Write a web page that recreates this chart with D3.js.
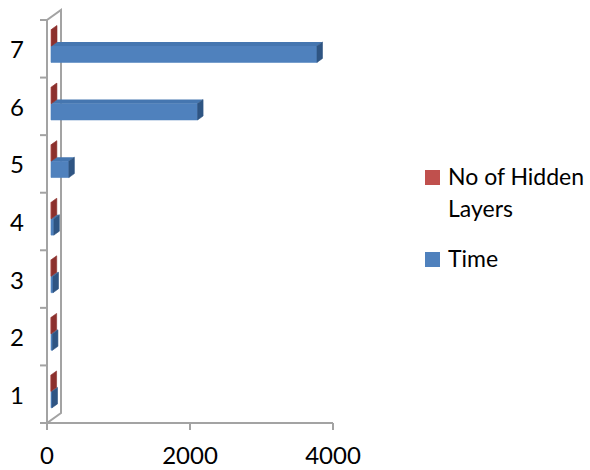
<!DOCTYPE html>
<html>
<head>
<meta charset="utf-8">
<script src="https://cdn.jsdelivr.net/npm/d3@7"></script>
<style>
  html, body { margin: 0; padding: 0; background: #fff; }
  svg { display: block; }
  text { font-family: Lato, "Open Sans", sans-serif; fill: #000; }
</style>
</head>
<body>
<svg id="chart" width="590" height="470"></svg>
<script>
// Hidden-layer experiments: categories 1..7
const categories = ["1", "2", "3", "4", "5", "6", "7"];
const hiddenLayers = [1, 2, 3, 4, 5, 6, 7];
const timeValues = [14, 20, 28, 40, 250, 2050, 3720];
const xTicks = [0, 2000, 4000];
const seriesNames = ["No of Hidden Layers", "Time"];
const seriesKeys = ["hidden", "time"];

const svg = d3.select("#chart");

// Front plane of the plot box
const plot = { left: 47, right: 333, top: 20, bottom: 423 };
const WALL_DEPTH = 14;          // depth of the box (px along x)
const K = -10 / 14;             // vertical shift per px of depth
const BAR_FRONT = 4, BAR_BACK = 9.5;

const proj = (x, y, d) => [x + d, y + K * d];

const x = d3.scaleLinear().domain([0, 4000]).range([plot.left, plot.right]);
const y = d3.scaleBand().domain(categories.slice().reverse())
  .range([plot.top, plot.bottom]).padding(0);
const ySeries = d3.scaleBand().domain(seriesKeys)
  .range([0, y.bandwidth()]).paddingInner(0).paddingOuter(0.75);

const gray = "#a3a3a3";

// Side wall (left) of the 3D box
const wall = svg.append("g").attr("stroke", gray).attr("stroke-width", 2).attr("fill", "none");
const wallPts = [
  proj(plot.left, plot.bottom, 0),
  proj(plot.left, plot.top, 0),
  proj(plot.left, plot.top, WALL_DEPTH),
  proj(plot.left, plot.bottom, WALL_DEPTH),
];
wall.append("path").attr("d", d3.line()(wallPts) + "Z");

// Category axis ticks on the front edge
const edges = categories.map(c => y(c)).concat([plot.bottom]);
wall.selectAll("line.ctick").data(edges).join("line")
  .attr("x1", plot.left - 7).attr("x2", plot.left)
  .attr("y1", d => d).attr("y2", d => d);

// Value axis baseline and ticks
wall.append("line")
  .attr("x1", plot.left - 7).attr("x2", x(4000))
  .attr("y1", plot.bottom).attr("y2", plot.bottom);
wall.selectAll("line.xtick").data(xTicks).join("line")
  .attr("x1", d => x(d)).attr("x2", d => x(d))
  .attr("y1", plot.bottom).attr("y2", plot.bottom + 7);

// Tick labels
svg.append("g").selectAll("text").data(categories).join("text")
  .attr("x", 24).attr("y", d => y(d) + y.bandwidth() / 2)
  .attr("text-anchor", "end").attr("dominant-baseline", "central")
  .attr("font-size", 24).text(d => d);

svg.append("g").selectAll("text").data(xTicks).join("text")
  .attr("x", d => x(d)).attr("y", 464)
  .attr("text-anchor", "middle").attr("font-size", 24).text(d => d);

// Bar colours: front, top, side
const palette = {
  hidden: { front: "#c0504d", top: "#b0443f", side: "#8c302d" },
  time:   { front: "#4f81bd", top: "#4576b0", side: "#2f5583" },
};

const rows = [];
categories.forEach((c, i) => {
  rows.push({ cat: c, key: "time", value: timeValues[i] });
  rows.push({ cat: c, key: "hidden", value: hiddenLayers[i] });
});
// Paint lower bars first so upper bars overlap their top faces
rows.sort((a, b) => {
  const ya = y(a.cat) + ySeries(a.key), yb = y(b.cat) + ySeries(b.key);
  return yb - ya;
});

const poly = pts => "M" + pts.map(p => p.join(",")).join("L") + "Z";
const bars = svg.append("g");
rows.forEach(r => {
  const c = palette[r.key];
  const y0 = y(r.cat) + ySeries(r.key);
  const y1 = y0 + ySeries.bandwidth();
  const x0 = x(0), x1 = x(r.value);
  const g = bars.append("g");
  // front face
  g.append("path").attr("fill", c.front).attr("stroke", c.front).attr("stroke-width", 0.6)
    .attr("d", poly([
      proj(x0, y0, BAR_FRONT), proj(x1, y0, BAR_FRONT),
      proj(x1, y1, BAR_FRONT), proj(x0, y1, BAR_FRONT)]));
  // top face
  g.append("path").attr("fill", c.top).attr("d", poly([
    proj(x0, y0, BAR_FRONT), proj(x1, y0, BAR_FRONT),
    proj(x1, y0, BAR_BACK), proj(x0, y0, BAR_BACK)]));
  // right side face
  g.append("path").attr("fill", c.side).attr("stroke", c.side).attr("stroke-width", 0.6)
    .attr("d", poly([
      proj(x1, y0, BAR_FRONT), proj(x1, y0, BAR_BACK),
      proj(x1, y1, BAR_BACK), proj(x1, y1, BAR_FRONT)]));
});

// Legend
const legend = svg.append("g");
const legendItems = [
  { name: seriesNames[0], color: palette.hidden.front, lines: ["No of Hidden", "Layers"], y: 170 },
  { name: seriesNames[1], color: palette.time.front, lines: ["Time"], y: 252 },
];
legendItems.forEach(it => {
  legend.append("rect").attr("x", 425).attr("y", it.y)
    .attr("width", 15).attr("height", 15).attr("fill", it.color);
  const t = legend.append("text").attr("x", 448).attr("y", it.y + 15)
    .attr("font-size", 23);
  it.lines.forEach((ln, j) => {
    t.append("tspan").attr("x", 448).attr("dy", j === 0 ? 0 : 32).text(ln);
  });
});
</script>
</body>
</html>
